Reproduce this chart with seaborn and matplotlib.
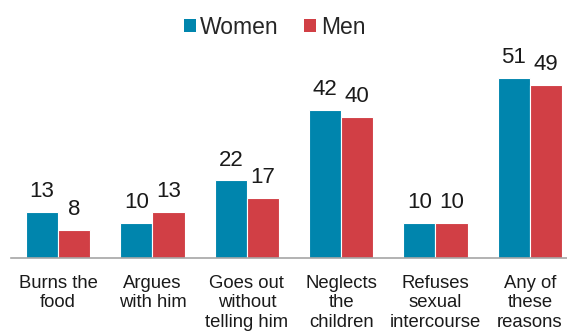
import matplotlib
matplotlib.use("Agg")
import matplotlib.pyplot as plt
import seaborn as sns
import pandas as pd
from matplotlib.patches import Patch

categories = ["Burns the\nfood", "Argues\nwith him", "Goes out\nwithout\ntelling him",
              "Neglects\nthe\nchildren", "Refuses\nsexual\nintercourse", "Any of\nthese\nreasons"]
women = [13, 10, 22, 42, 10, 51]
men = [8, 13, 17, 40, 10, 49]
series = ["Women", "Men"]
colors = ["#0085AD", "#D13F45"]

df = pd.DataFrame({
    "category": categories * 2,
    "value": women + men,
    "sex": ["Women"] * len(categories) + ["Men"] * len(categories),
})

sns.set_style("white")
plt.rcParams["font.family"] = ["Liberation Sans", "DejaVu Sans"]

W, H = 567, 332
fig = plt.figure(figsize=(W / 100, H / 100), dpi=100)
base = 258
ax = fig.add_axes([11 / W, (H - base) / H, 566 / W, base / H])

sns.barplot(data=df, x="category", y="value", hue="sex", hue_order=series,
            palette=colors, saturation=1, width=0.68, ax=ax, edgecolor="white",
            linewidth=0.8, legend=False)

ax.set_ylim(0, base / 3.53)
ax.set_xlim(-0.5, 5.5)
for s in ["top", "right", "left"]:
    ax.spines[s].set_visible(False)
ax.spines["bottom"].set_color("#A6A6A6")
ax.spines["bottom"].set_linewidth(1.2)
ax.set_yticks([])
ax.set_xlabel("")
ax.set_ylabel("")
ax.tick_params(axis="x", length=0, pad=12, labelsize=13.3, labelcolor="#1a1a1a")
for lab in ax.get_xticklabels():
    lab.set_linespacing(1.2)
    lab.set_verticalalignment("top")

for cont in ax.containers:
    ax.bar_label(cont, fmt="%d", padding=7, fontsize=16, color="#1a1a1a")

handles = [Patch(facecolor=c, edgecolor="none", label=s) for c, s in zip(colors, series)]
fig.legend(handles=handles, loc="center", bbox_to_anchor=(274.5 / W, 1 - 27 / H),
           ncol=2, frameon=False, fontsize=16.5, handlelength=0.52, handleheight=0.52,
           handletextpad=0.2, columnspacing=1.1, borderpad=0)

fig.savefig("out.png", dpi=100)
